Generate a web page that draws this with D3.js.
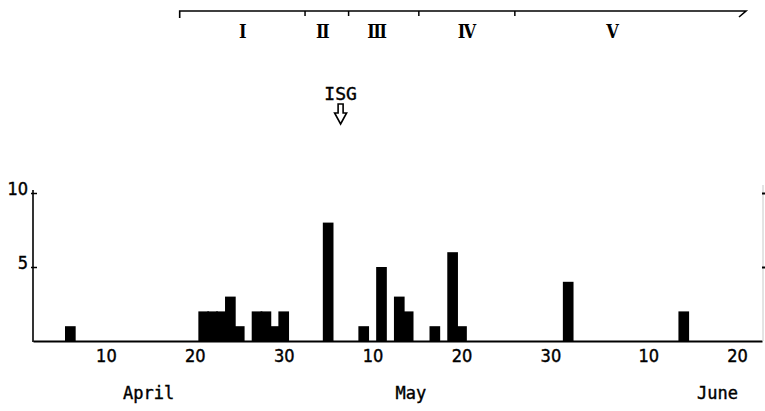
<!DOCTYPE html>
<html lang="en">
<head>
    <meta charset="UTF-8">
    <title>Daily counts, April - June</title>
    <script src="https://d3js.org/d3.v7.min.js"></script>
    <style>
        body {
            margin: 0;
            background-color: #ffffff;
        }
        svg {
            display: block;
        }
        .num {
            font-family: "DejaVu Sans Condensed", "DejaVu Sans", sans-serif;
            font-stretch: condensed;
            font-size: 18px;
            fill: #000;
            stroke: #000;
            stroke-width: 0.4px;
        }
        .mono {
            font-family: "DejaVu Sans Mono", monospace;
            font-size: 17px;
            fill: #000;
            stroke: #000;
            stroke-width: 0.4px;
        }
        .roman {
            font-family: "DejaVu Serif Condensed", "DejaVu Serif", "Noto Sans CJK JP", serif;
            font-stretch: condensed;
            font-size: 18px;
            font-weight: bold;
            fill: #000;
        }
    </style>
</head>
<body>
    <svg></svg>

    <script>
        // data
        const barDays = ["04-06", "04-21", "04-22", "04-23", "04-24", "04-25",
                         "04-27", "04-28", "04-29", "04-30", "05-05", "05-09",
                         "05-11", "05-13", "05-14", "05-17", "05-19", "05-20",
                         "06-01", "06-14"];
        const barCounts = [1, 2, 2, 2, 3, 1, 2, 2, 1, 2, 8, 1, 5, 3, 2, 1, 6, 1, 4, 2];

        const xTickDays = ["04-10", "04-20", "04-30", "05-10", "05-20", "05-30", "06-10", "06-20"];
        const yTicks = [5, 10];

        const monthNames = ["April", "May", "June"];
        const monthLabelDays = ["04-14.8", "05-14.3", "06-17.8"];

        const phaseNames = ["Ⅰ", "Ⅱ", "Ⅲ", "Ⅳ", "Ⅴ"];
        const phaseBounds = ["04-18.3", "05-02.4", "05-07.3", "05-15.2", "05-26", "06-21"];
        const phaseLabelDays = ["04-25.4", "05-04.4", "05-10.5", "05-20.6", "06-06"];

        const isgDay = "05-06.4";
        const isgLabel = "ISG";

        // "MM-DD" (day may be fractional) -> Date
        function day(s) {
            const [m, d] = s.split("-").map(Number);
            return new Date(Date.UTC(1981, m - 1, 1) + (d - 1) * 864e5);
        }

        const W = 765, H = 411;
        const base = 341;

        const svg = d3.select("svg")
            .attr("width", W)
            .attr("height", H);

        svg.append("rect").attr("width", W).attr("height", H).attr("fill", "#fff");

        const x = d3.scaleUtc()
            .domain([day("04-01.8"), day("06-22.8")])
            .range([33, 762]);

        const y = d3.scaleLinear()
            .domain([0, 10])
            .range([base, 193]);

        const dayW = x(day("04-11")) - x(day("04-10"));

        // bars, one per day
        const bars = barDays.map((d, i) => ({ date: day(d), n: barCounts[i] }));
        svg.append("g")
            .selectAll("rect")
            .data(bars)
            .enter().append("rect")
            .attr("x", d => x(d.date) - dayW * 0.6)
            .attr("width", dayW * 1.2)
            .attr("y", d => y(d.n))
            .attr("height", d => y(0) - y(d.n))
            .attr("fill", "#000");

        // x axis
        const xAxis = svg.append("g")
            .attr("transform", "translate(0," + base + ")")
            .call(d3.axisBottom(x)
                .tickValues(xTickDays.map(day))
                .tickFormat(d3.utcFormat("%-d"))
                .tickSize(0)
                .tickSizeOuter(0)
                .tickPadding(8));
        xAxis.select(".domain").attr("stroke", "#000").attr("stroke-width", 2);
        xAxis.selectAll("text").attr("class", "num");

        // y axis
        const yAxis = svg.append("g")
            .attr("transform", "translate(33,0)")
            .call(d3.axisLeft(y)
                .tickValues(yTicks)
                .tickSize(3)
                .tickSizeOuter(0)
                .tickPadding(2));
        yAxis.select(".domain").attr("stroke", "#000").attr("stroke-width", 1.6)
            .attr("d", "M0," + (base + 1) + "V" + (y(10) - 3));
        yAxis.selectAll(".tick line").attr("stroke-width", 1.5).attr("x2", 4).attr("x1", -2);
        yAxis.selectAll("text").attr("class", "num").attr("dy", "0.1em");

        // faint right-hand frame
        const rAxis = svg.append("g")
            .attr("transform", "translate(763,0)")
            .call(d3.axisRight(y)
                .tickValues(yTicks)
                .tickSize(2)
                .tickSizeOuter(0)
                .tickFormat(""));
        rAxis.select(".domain").attr("stroke", "#c8c8c8").attr("stroke-width", 1)
            .attr("d", "M0," + base + "V" + (y(10) - 8));
        rAxis.selectAll(".tick line").attr("stroke", "#000").attr("stroke-width", 2).attr("x1", -1);

        // month names
        svg.append("g")
            .selectAll("text")
            .data(monthNames)
            .enter().append("text")
            .attr("class", "mono")
            .attr("x", (d, i) => x(day(monthLabelDays[i])))
            .attr("y", 399)
            .attr("text-anchor", "middle")
            .text(d => d);

        // phase bar along the top
        const topY = 11;
        const b = phaseBounds.map(day).map(x);
        const phase = svg.append("g").attr("stroke", "#000").attr("fill", "none");
        phase.append("path")
            .attr("stroke-width", 1.6)
            .attr("d", "M" + b[0] + "," + (topY + 7) + "V" + topY + "H" + b[b.length - 1] +
                "L" + (b[b.length - 1] - 7) + "," + (topY + 6));
        phase.selectAll("line")
            .data(b.slice(1, -1))
            .enter().append("line")
            .attr("stroke-width", 1.5)
            .attr("x1", d => d).attr("x2", d => d)
            .attr("y1", topY).attr("y2", topY + 5);

        svg.append("g")
            .selectAll("text")
            .data(phaseNames)
            .enter().append("text")
            .attr("class", "roman")
            .attr("x", (d, i) => x(day(phaseLabelDays[i])))
            .attr("y", 38)
            .attr("text-anchor", "middle")
            .text(d => d);

        // ISG marker
        const ix = x(day(isgDay));
        svg.append("text")
            .attr("class", "mono")
            .attr("x", ix)
            .attr("y", 100)
            .style("font-size", "18px")
            .attr("text-anchor", "middle")
            .text(isgLabel);

        svg.append("path")
            .attr("fill", "none")
            .attr("stroke", "#000")
            .attr("stroke-width", 1.6)
            .attr("d", "M" + (ix - 2.5) + ",104V113H" + (ix - 6) + "L" + ix + ",124L" +
                (ix + 6) + ",113H" + (ix + 2.5) + "V104Z");
    </script>
</body>
</html>
